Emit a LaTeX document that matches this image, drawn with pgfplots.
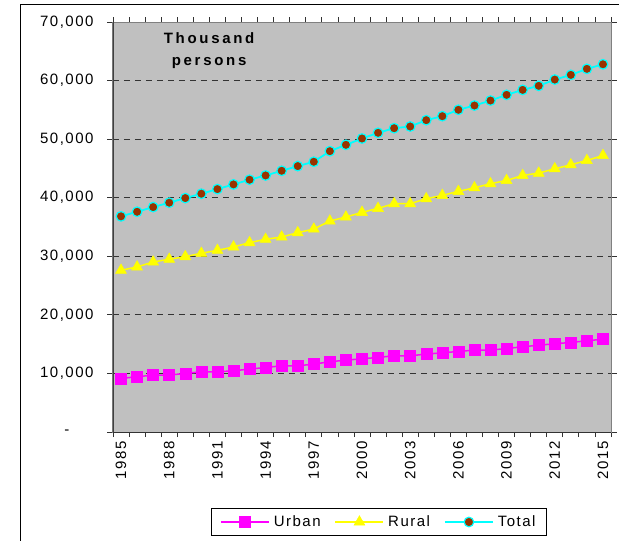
\documentclass[border=0pt]{standalone}
\usepackage{fontspec}
\setmainfont{Liberation Sans}[LetterSpace=10]
\usepackage{pgfplots}
\pgfplotsset{compat=1.18}

\definecolor{plotgray}{RGB}{192,192,192}
\definecolor{urbanc}{RGB}{255,0,255}
\definecolor{ruralc}{RGB}{255,255,0}
\definecolor{totalc}{RGB}{0,255,255}
\definecolor{dotc}{RGB}{153,51,0}

\pgfplotstableread{
year urban rural total
1985 9150 27610 36820
1986 9430 28180 37600
1987 9720 29030 38400
1988 9720 29490 39150
1989 10000 29940 39940
1990 10280 30510 40680
1991 10280 31020 41470
1992 10450 31590 42270
1993 10740 32330 43070
1994 11020 32900 43800
1995 11300 33290 44600
1996 11300 34030 45400
1997 11590 34650 46140
1998 11990 36020 47950
1999 12270 36700 49030
2000 12500 37500 50110
2001 12730 38180 51080
2002 13010 38980 51870
2003 13010 38980 52160
2004 13300 39830 53240
2005 13520 40400 53920
2006 13750 41080 55010
2007 13980 41700 55740
2008 13980 42390 56590
2009 14260 42950 57560
2010 14540 43800 58410
2011 14830 44200 59100
2012 15060 44940 60170
2013 15290 45620 60970
2014 15570 46360 62000
2015 15850 47210 62780
}\popdata

\begin{document}
\begin{tikzpicture}
\useasboundingbox (-113pt,-109pt) rectangle (506pt,432pt);
% outer chart frame (only top and left edges visible)
\draw[black, line width=1pt] (506pt,427pt) -- (-92.3pt,427pt) -- (-92.3pt,-109pt);
\begin{axis}[
    at={(0,0)}, anchor=south west,
    scale only axis, width=498pt, height=410pt,
    font=\fontsize{15}{18}\selectfont,
    xmin=1984.5, xmax=2015.5,
    ymin=0, ymax=70000,
    scaled y ticks=false,
    axis background/.style={fill=plotgray},
    axis line style={draw=gray, line width=1pt},
    ytick={0,10000,20000,30000,40000,50000,60000,70000},
    yticklabels={{-\kern24pt},{10,000},{20,000},{30,000},{40,000},{50,000},{60,000},{70,000}},
    xtick={1985,1988,1991,1994,1997,2000,2003,2006,2009,2012,2015},
    xticklabels={1985,1988,1991,1994,1997,2000,2003,2006,2009,2012,2015},
    minor xtick={1984.5,1985.5,...,2015.5},
    every major x tick/.style={draw=none},
    tick align=outside,
    major tick length=6pt, minor tick length=5pt,
    tick style={black!80, line width=0.8pt},
    xticklabel style={rotate=90, anchor=east},
    yticklabel style={xshift=-10pt},
    ymajorgrids,
    major grid style={black!80, line width=0.8pt, dash pattern=on 6pt off 5pt},
    legend columns=3,
    legend style={at={(0.534,-0.2195)}, anchor=center, draw=black, line width=0.8pt,
        fill=white, inner xsep=9pt, inner ysep=5pt,
        /tikz/every odd column/.append style={column sep=2pt},
        /tikz/every even column/.append style={column sep=12pt}},
    legend image code/.code={\draw[mark repeat=2, mark phase=2]
        plot coordinates {(0pt,0pt) (24pt,0pt) (48pt,0pt)};},
]
\addplot[urbanc, line width=1.5pt, mark=square*, mark size=5.5pt,
    mark options={fill=urbanc, draw=urbanc, line width=0.5pt}] table[x=year, y=urban] {\popdata};
\addlegendentry{Urban}
\addplot[ruralc, line width=1.5pt, mark=triangle*, mark size=6.3pt,
    mark options={fill=ruralc, draw=ruralc, line width=0.5pt}] table[x=year, y=rural] {\popdata};
\addlegendentry{Rural}
\addplot[totalc, line width=1.8pt, mark=*, mark size=4.8pt,
    mark options={fill=dotc, draw=totalc, line width=1.2pt}] table[x=year, y=total] {\popdata};
\addlegendentry{Total}
\draw[black!75, line width=1.6pt] (rel axis cs:0,0) -- (rel axis cs:0,1);
\draw[black!80, line width=1pt] (rel axis cs:0,0) -- (rel axis cs:1,0);
\node[align=center, font=\fontsize{15}{22}\selectfont\bfseries\addfontfeatures{LetterSpace=18}]
    at (rel axis cs:0.193,0.929) {Thousand\\persons};
\end{axis}
\end{tikzpicture}
\end{document}
